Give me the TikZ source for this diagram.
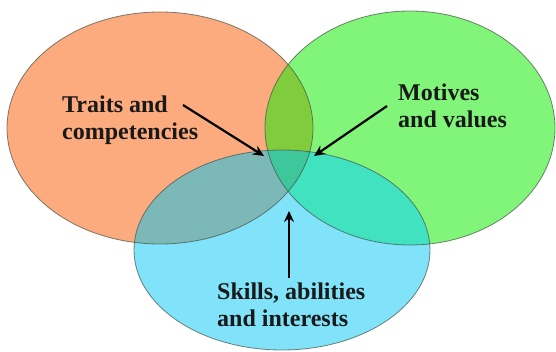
\documentclass[tikz,border=0pt]{standalone}
\usepackage{fontspec}
\setmainfont{Liberation Serif}
\usetikzlibrary{arrows.meta}
\usetikzlibrary{positioning}

\definecolor{orangefill}{RGB}{252,171,126}
\definecolor{greenfill}{RGB}{128,245,122}
\definecolor{bluefill}{RGB}{128,227,249}
\definecolor{orblue}{RGB}{125,184,184}
\definecolor{grblue}{RGB}{64,226,192}
\definecolor{orgreen}{RGB}{128,204,60}
\definecolor{allthree}{RGB}{62,199,154}
\definecolor{rim}{RGB}{70,80,70}

\tikzset{
    label/.style={font=\bfseries\fontsize{24}{27}\selectfont, align=left, inner sep=0pt, anchor=north west, text=black!90},
    pointer/.style={line width=2.2pt, -{Stealth[length=11pt, width=10pt]}},
    rim/.style={draw=rim, draw opacity=0.7, line width=0.8pt}
}

\newcommand{\orangeoval}{(160,128) ellipse [x radius=153pt, y radius=116pt]}
\newcommand{\greenoval}{(410,128) ellipse [x radius=145pt, y radius=117pt]}
\newcommand{\blueoval}{(282,250) ellipse [x radius=148pt, y radius=100pt]}

\begin{document}
\begin{tikzpicture}[x=1pt, y=-1pt]
    \useasboundingbox (0, 0) rectangle (556, 352);

    % ovali
    \fill[orangefill] \orangeoval;
    \fill[greenfill] \greenoval;
    \fill[bluefill] \blueoval;

    % sovrapposizioni
    \begin{scope}
        \clip \orangeoval;
        \fill[orblue] \blueoval;
        \fill[orgreen] \greenoval;
    \end{scope}
    \begin{scope}
        \clip \greenoval;
        \fill[grblue] \blueoval;
    \end{scope}
    \begin{scope}
        \clip \orangeoval;
        \clip \greenoval;
        \fill[allthree] \blueoval;
    \end{scope}

    % bordi
    \draw[rim] \orangeoval;
    \draw[rim] \greenoval;
    \draw[rim] \blueoval;

    % testi
    \node[label] (traits) at (62, 96) {Traits and\\competencies};
    \node[label] (motives) at (398, 84) {Motives\\and values};
    \node[label] (skills) at (217, 283) {Skills, abilities\\and interests};

    % punte delle frecce
    \coordinate (leftmeet) at (264, 156);
    \coordinate (rightmeet) at (314, 156);
    \coordinate (centre) at (289, 211);

    % frecce
    \draw[pointer] ([xshift=121pt, yshift=-9pt]traits.north west) -- (leftmeet);
    \draw[pointer] ([xshift=-11pt, yshift=-22pt]motives.north west) -- (rightmeet);
    \draw[pointer] ([xshift=72pt, yshift=5pt]skills.north west) -- (centre);
\end{tikzpicture}
\end{document}
